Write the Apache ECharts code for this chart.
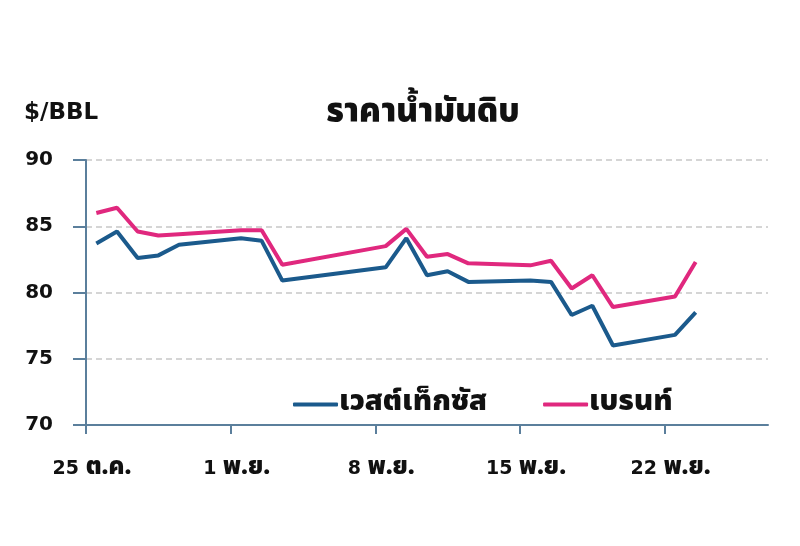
<!DOCTYPE html>
<html>
<head>
<meta charset="utf-8">
<script src="https://cdn.jsdelivr.net/npm/echarts@6/dist/echarts.min.js"></script>
<style>
html,body{margin:0;padding:0;background:#fff;}
#c{width:800px;height:546px;}
</style>
</head>
<body>
<div id="c"></div>
<script>
// Day offsets from 25 Oct (trading days shown)
var dayOffsets = [0, 1, 2, 3, 4, 7, 8, 9, 14, 15, 16, 17, 18, 21, 22, 23, 24, 25, 28, 29];
var wtiValues   = [83.7, 84.6, 82.6, 82.8, 83.6, 84.1, 83.9, 80.9, 81.9, 84.1, 81.3, 81.6, 80.8, 80.9, 80.8, 78.3, 79.0, 76.0, 76.8, 78.5];
var brentValues = [86.0, 86.4, 84.6, 84.3, 84.4, 84.7, 84.7, 82.1, 83.5, 84.8, 82.7, 82.9, 82.2, 82.05, 82.4, 80.3, 81.3, 78.9, 79.7, 82.3];
var tickDays   = [0, 7, 14, 21, 28];
var tickDayNums = ['25', '1', '8', '15', '22'];
var tickMonths  = ['ต.ค.', 'พ.ย.', 'พ.ย.', 'พ.ย.', 'พ.ย.'];
var seriesNames = ['เวสต์เท็กซัส', 'เบรนท์'];
var titleText = 'ราคาน้ำมันดิบ';
var unitText = '$/BBL';

var numFont = '"DejaVu Sans", "Liberation Sans", Arial, sans-serif';
var thaiFont = '"Noto Sans Thai", "Noto Sans Thai UI", "Liberation Sans", sans-serif';
function pairs(vals){ return dayOffsets.map(function(d,i){ return [d + 0.5, vals[i]]; }); }

var chart = echarts.init(document.getElementById('c'), null, {renderer:'canvas'});
chart.setOption({
  animation:false,
  backgroundColor:'#fff',
  title:[
    {text:titleText, left:418, top:94, textAlign:'center', textStyle:{fontFamily:thaiFont, fontSize:33, fontWeight:900, color:'#111'}},
    {text:unitText, left:19, top:97, textStyle:{fontFamily:numFont, fontSize:23, fontWeight:'bold', color:'#111'}}
  ],
  legend:{
    left:288, top:385, itemWidth:45, itemHeight:4, itemGap:56,
    icon:'roundRect',
    textStyle:{fontFamily:thaiFont, fontSize:29, fontWeight:900, color:'#111', padding:[0,0,0,-4]},
    data:seriesNames
  },
  grid:{left:86, right:32, top:160, bottom:121, containLabel:false},
  xAxis:{
    type:'value', min:0, max:33, interval:7,
    axisLine:{show:true, lineStyle:{color:'#5b7f9c', width:2}},
    axisTick:{show:true, length:9, lineStyle:{color:'#5b7f9c', width:2}, customValues:tickDays},
    splitLine:{show:false},
    axisLabel:{
      customValues:tickDays, margin:32, padding:[0,0,0,12],
      color:'#111',
      formatter:function(v){ var i = tickDays.indexOf(Math.round(v)); return i>=0 ? '{n|' + tickDayNums[i] + ' }{t|' + tickMonths[i] + '}' : ''; },
      rich:{
        n:{fontFamily:numFont, fontSize:19, fontWeight:'bold', color:'#111', verticalAlign:'bottom', padding:[0,0,2,0]},
        t:{fontFamily:thaiFont, fontSize:24, fontWeight:900, color:'#111', verticalAlign:'bottom'}
      }
    }
  },
  yAxis:{
    type:'value', min:70, max:90, interval:5,
    axisLine:{show:true, lineStyle:{color:'#5b7f9c', width:2}},
    axisTick:{show:true, length:13, lineStyle:{color:'#5b7f9c', width:2}},
    splitLine:{show:true, lineStyle:{color:'#c8c8c8', type:[6,4], width:1.5}},
    axisLabel:{margin:33, fontFamily:numFont, fontSize:20, fontWeight:'bold', color:'#111'}
  },
  series:[
    {name:seriesNames[0], type:'line', data:pairs(wtiValues), showSymbol:false, symbol:'none',
     lineStyle:{color:'#1b5a8c', width:4}, itemStyle:{color:'#1b5a8c'}, z:3},
    {name:seriesNames[1], type:'line', data:pairs(brentValues), showSymbol:false, symbol:'none',
     lineStyle:{color:'#e0287e', width:4}, itemStyle:{color:'#e0287e'}, z:2}
  ]
});
</script>
</body>
</html>
